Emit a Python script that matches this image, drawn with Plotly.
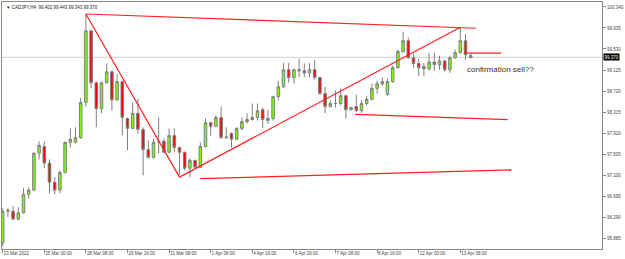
import plotly.graph_objects as go

# ---- data (CADJPY H4) ----
opens = [95.79, 96.40, 96.40, 96.25, 96.37, 96.73, 96.81, 97.52, 97.65, 97.33,
         96.96, 96.81, 97.15, 97.73, 97.73, 97.82, 98.50, 99.88, 98.88, 98.38,
         98.88, 99.09, 98.55, 98.90, 98.19, 98.00, 98.29, 97.98, 97.59, 97.44,
         97.745, 97.75, 97.54, 97.86, 97.63, 97.54, 97.23, 97.38, 97.25, 97.65,
         98.11, 98.04, 98.21, 97.82, 97.90, 97.79, 98.00, 98.13, 98.17, 98.21,
         98.36, 98.15, 98.19, 98.61, 98.80, 99.13, 98.98, 99.13, 99.11, 99.07,
         99.13, 98.98, 98.67, 98.42, 98.48, 98.48, 98.63, 98.36, 98.42, 98.34,
         98.48, 98.56, 98.77, 98.86, 98.65, 98.90, 99.17, 99.48, 99.69, 99.36,
         99.25, 99.19, 99.15, 99.28, 99.23, 99.30, 99.13, 99.36, 99.46, 99.69,
         99.402]
highs = [96.46, 96.46, 96.50, 96.48, 96.85, 96.86, 97.54, 97.75, 97.75, 97.40,
         97.06, 97.19, 97.75, 98.00, 98.02, 98.59, 100.20, 99.90, 98.90, 98.90,
         99.25, 99.11, 99.05, 98.92, 98.21, 98.50, 98.57, 98.02, 97.77, 97.80,
         98.21, 97.80, 98.00, 98.00, 97.65, 97.54, 97.42, 97.40, 97.73, 98.19,
         98.13, 98.25, 98.42, 98.02, 97.92, 98.02, 98.21, 98.29, 98.48, 98.48,
         98.40, 98.36, 98.63, 98.92, 99.26, 99.26, 99.15, 99.34, 99.25, 99.26,
         99.32, 98.99, 98.80, 98.54, 98.73, 98.77, 98.65, 98.42, 98.65, 98.54,
         98.63, 98.86, 98.92, 98.98, 98.96, 99.21, 99.52, 99.86, 99.75, 99.44,
         99.34, 99.26, 99.46, 99.46, 99.40, 99.32, 99.40, 99.52, 99.94, 99.82,
         99.443]
lows = [95.73, 96.29, 96.23, 96.23, 96.36, 96.65, 96.79, 97.40, 97.23, 96.75,
        96.73, 96.75, 97.13, 97.63, 97.71, 97.80, 98.42, 98.77, 98.02, 98.29,
        98.86, 98.34, 98.53, 97.86, 97.575, 97.99, 97.90, 97.095, 97.42, 97.42,
        97.52, 97.52, 97.52, 97.54, 97.095, 97.19, 97.06, 97.23, 97.23, 97.63,
        97.86, 98.02, 97.80, 97.80, 97.63, 97.77, 97.96, 98.09, 98.15, 98.15,
        98.00, 98.09, 98.15, 98.54, 98.78, 98.88, 98.86, 98.98, 98.99, 98.98,
        98.94, 98.65, 98.29, 98.40, 98.40, 98.44, 98.19, 98.34, 98.32, 98.30,
        98.44, 98.54, 98.67, 98.82, 98.63, 98.88, 99.15, 99.46, 99.34, 99.17,
        99.01, 99.01, 99.11, 99.11, 99.13, 99.09, 99.07, 99.34, 99.44, 99.32,
        99.343]
closes = [96.40, 96.42, 96.25, 96.37, 96.73, 96.81, 97.52, 97.67, 97.33, 96.96,
          96.81, 97.15, 97.73, 97.79, 97.82, 98.50, 99.88, 98.88, 98.38, 98.88,
          99.09, 98.55, 98.90, 98.21, 98.00, 98.29, 97.98, 97.59, 97.44, 97.73,
          97.745, 97.54, 97.86, 97.63, 97.54, 97.23, 97.38, 97.25, 97.65, 98.11,
          98.04, 98.21, 97.82, 97.83, 97.79, 98.00, 98.13, 98.17, 98.21, 98.34,
          98.17, 98.19, 98.61, 98.80, 99.13, 98.98, 99.13, 99.11, 99.07, 99.13,
          98.98, 98.67, 98.42, 98.48, 98.48, 98.63, 98.36, 98.40, 98.34, 98.48,
          98.56, 98.77, 98.86, 98.90, 98.90, 99.17, 99.48, 99.69, 99.36, 99.25,
          99.17, 99.15, 99.28, 99.23, 99.30, 99.13, 99.36, 99.46, 99.69, 99.42,
          99.370]

time_label_bars = [0, 8, 16, 24, 32, 40, 48, 56, 64, 72, 80, 88]
time_labels = ["23 Mar 2022", "25 Mar 00:00", "28 Mar 08:00", "29 Mar 16:00",
               "31 Mar 08:00", "1 Apr 08:00", "4 Apr 16:00", "6 Apr 00:00",
               "7 Apr 08:00", "8 Apr 16:00", "12 Apr 00:00", "13 Apr 08:00"]
price_ticks = [100.340, 99.935, 99.530, 99.125, 98.720, 98.315,
               97.910, 97.505, 97.100, 96.695, 96.290, 95.885]
last_price = 99.370
header_text = "\u25BC CADJPY,H4  99.402 99.443 99.343 99.370"

# drawn trend lines: (bar0, price0, bar1, price1)
trend_lines = [
    (16, 100.205, 91.0, 99.93),
    (16, 100.205, 34.0, 97.06),
    (34, 97.06, 88.0, 99.95),
    (88.7, 99.45, 95.9, 99.45),
    (67.8, 98.27, 97.1, 98.17),
    (38.0, 97.03, 97.8, 97.20),
]
note_text = "confirmation sell??"
note_bar, note_price = 88.9, 99.13

bars = list(range(len(opens)))

fig = go.Figure()
fig.add_trace(go.Candlestick(
    x=bars, open=opens, high=highs, low=lows, close=closes,
    increasing=dict(fillcolor="#7cfc00", line=dict(color="#808080", width=1)),
    decreasing=dict(fillcolor="#ff0000", line=dict(color="#808080", width=1)),
    whiskerwidth=0, showlegend=False, hoverinfo="skip",
))

shapes = [dict(type="line", xref="paper", yref="y", x0=0, x1=1,
               y0=last_price, y1=last_price,
               line=dict(color="#cfcfcf", width=1), layer="below")]
for (a, b, c, d) in trend_lines:
    shapes.append(dict(type="line", xref="x", yref="y", x0=a, y0=b, x1=c, y1=d,
                       line=dict(color="#ff2020", width=1.2)))

annotations = [
    dict(xref="paper", yref="paper", x=0, y=1, xanchor="left", yanchor="top",
         xshift=2, yshift=-1, text=header_text, showarrow=False,
         font=dict(family="Liberation Sans", size=4.5, color="#222")),
    dict(xref="paper", yref="y", x=1, y=last_price, xanchor="left",
         yanchor="middle", xshift=1, text=f"{last_price:.3f}", showarrow=False,
         bgcolor="#000", borderpad=0.5,
         font=dict(family="Liberation Sans", size=4.5, color="#fff")),
    dict(xref="x", yref="y", x=note_bar, y=note_price, xanchor="left",
         yanchor="middle", text=note_text, showarrow=False,
         font=dict(family="Liberation Sans", size=8, color="#333")),
]

fig.update_layout(
    width=625, height=259,
    margin=dict(l=1, r=21, t=1, b=10),
    paper_bgcolor="white", plot_bgcolor="white",
    shapes=shapes, annotations=annotations,
    xaxis=dict(range=[-0.134, 115.25], tickvals=time_label_bars,
               ticktext=time_labels, ticks="outside", ticklen=3,
               tickcolor="#888", showline=True, linecolor="#888", mirror=True,
               showgrid=False, zeroline=False, ticklabelposition="outside right",
               tickfont=dict(family="Liberation Sans", size=4.5, color="#444"),
               rangeslider=dict(visible=False), fixedrange=True),
    yaxis=dict(range=[95.674, 100.436], side="right", tickvals=price_ticks,
               ticktext=[f"{v:.3f}" for v in price_ticks], ticks="outside",
               ticklen=3, tickcolor="#888", showline=True, linecolor="#888",
               mirror=True, showgrid=False, zeroline=False,
               tickfont=dict(family="Liberation Sans", size=4.5, color="#444"),
               fixedrange=True),
)

fig.write_html("out.html")
